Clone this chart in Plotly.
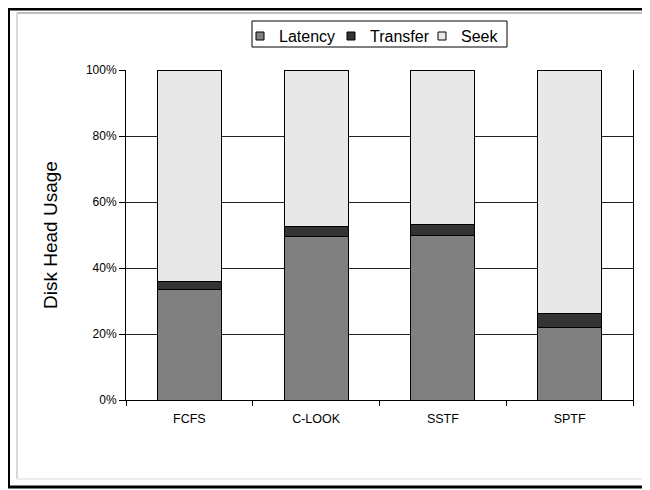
import plotly.graph_objects as go

categories = ["FCFS", "C-LOOK", "SSTF", "SPTF"]
latency = [33.5, 49.5, 50.0, 21.9]
transfer = [2.4, 3.0, 3.2, 4.2]
seek = [64.1, 47.5, 46.8, 73.9]
y_ticks = [0, 20, 40, 60, 80, 100]
y_ticktext = ["0%", "20%", "40%", "60%", "80%", "100%"]
series_names = ["Latency", "Transfer", "Seek"]
series_colors = ["#808080", "#333333", "#e8e8e8"]

# page body has an 8px margin, so the figure is laid out in page coords - 8
W, H = 642, 482
L, R, T, B = 118, 17, 62, 90
pw = W - L - R
ph = H - T - B

def px_x(px):
    return (px - L) / pw

def px_y(py):
    return (H - B - py) / ph

fig = go.Figure()
for name, vals, col in zip(series_names, [latency, transfer, seek], series_colors):
    fig.add_trace(go.Bar(x=categories, y=vals, name=name, showlegend=False,
                         marker=dict(color=col, line=dict(color="#000000", width=1))))

fig.update_layout(
    width=W, height=H,
    margin=dict(l=L, r=R, t=T, b=B),
    barmode="stack", bargap=0.495,
    paper_bgcolor="white", plot_bgcolor="white",
    font=dict(family="Arial, Liberation Sans, sans-serif", color="#000000", size=12),
    showlegend=False,
    xaxis=dict(showline=True, linecolor="#000000", linewidth=1,
               ticks="outside", ticklen=5, tickcolor="#000000",
               tickson="boundaries", showgrid=False, mirror=False,
               ticklabelstandoff=7, tickfont=dict(size=12.5)),
    yaxis=dict(range=[0, 100], tickvals=y_ticks, ticktext=y_ticktext,
               showline=True, linecolor="#000000", linewidth=1, mirror=True,
               ticks="outside", ticklen=6, tickcolor="#000000",
               showgrid=True, gridcolor="#222222", gridwidth=1,
               zeroline=False, tickfont=dict(size=12)),
)

fig.add_annotation(text="Disk Head Usage", textangle=-90, xref="paper", yref="paper",
                   x=px_x(42), y=0.5, xanchor="center", yanchor="middle",
                   showarrow=False, font=dict(size=19, color="#000000"))

# Legend box with swatches and labels
fig.add_shape(type="rect", xref="paper", yref="paper",
              x0=px_x(244), x1=px_x(499), y0=px_y(13), y1=px_y(39),
              line=dict(color="#000000", width=1), fillcolor="white")
swatch_left = [248, 339, 430]
for name, col, sx in zip(series_names, series_colors, swatch_left):
    fig.add_shape(type="rect", xref="paper", yref="paper",
                  x0=px_x(sx), x1=px_x(sx + 8), y0=px_y(24), y1=px_y(32),
                  line=dict(color="#000000", width=1), fillcolor=col)
    fig.add_annotation(text=name, xref="paper", yref="paper",
                       x=px_x(sx + 21), y=px_y(28), xanchor="left", yanchor="middle",
                       showarrow=False, font=dict(size=16, color="#000000"))

# Chart frame (outer black border and inner grey shadow lines)
fig.add_shape(type="line", xref="paper", yref="paper",
              x0=px_x(9), x1=px_x(700), y0=px_y(5), y1=px_y(5),
              line=dict(color="#c0c0c0", width=2))
fig.add_shape(type="line", xref="paper", yref="paper",
              x0=px_x(9), x1=px_x(9), y0=px_y(5), y1=px_y(471),
              line=dict(color="#d8d8d8", width=2))
fig.add_shape(type="line", xref="paper", yref="paper",
              x0=px_x(9), x1=px_x(700), y0=px_y(471), y1=px_y(471),
              line=dict(color="#ececec", width=2))
fig.add_shape(type="line", xref="paper", yref="paper",
              x0=px_x(0.5), x1=px_x(0.5), y0=px_y(0), y1=px_y(480),
              line=dict(color="#000000", width=3))
fig.add_shape(type="line", xref="paper", yref="paper",
              x0=px_x(0), x1=px_x(700), y0=px_y(1), y1=px_y(1),
              line=dict(color="#000000", width=3))
fig.add_shape(type="line", xref="paper", yref="paper",
              x0=px_x(0), x1=px_x(700), y0=px_y(479), y1=px_y(479),
              line=dict(color="#000000", width=3))

fig.write_html("out.html")
